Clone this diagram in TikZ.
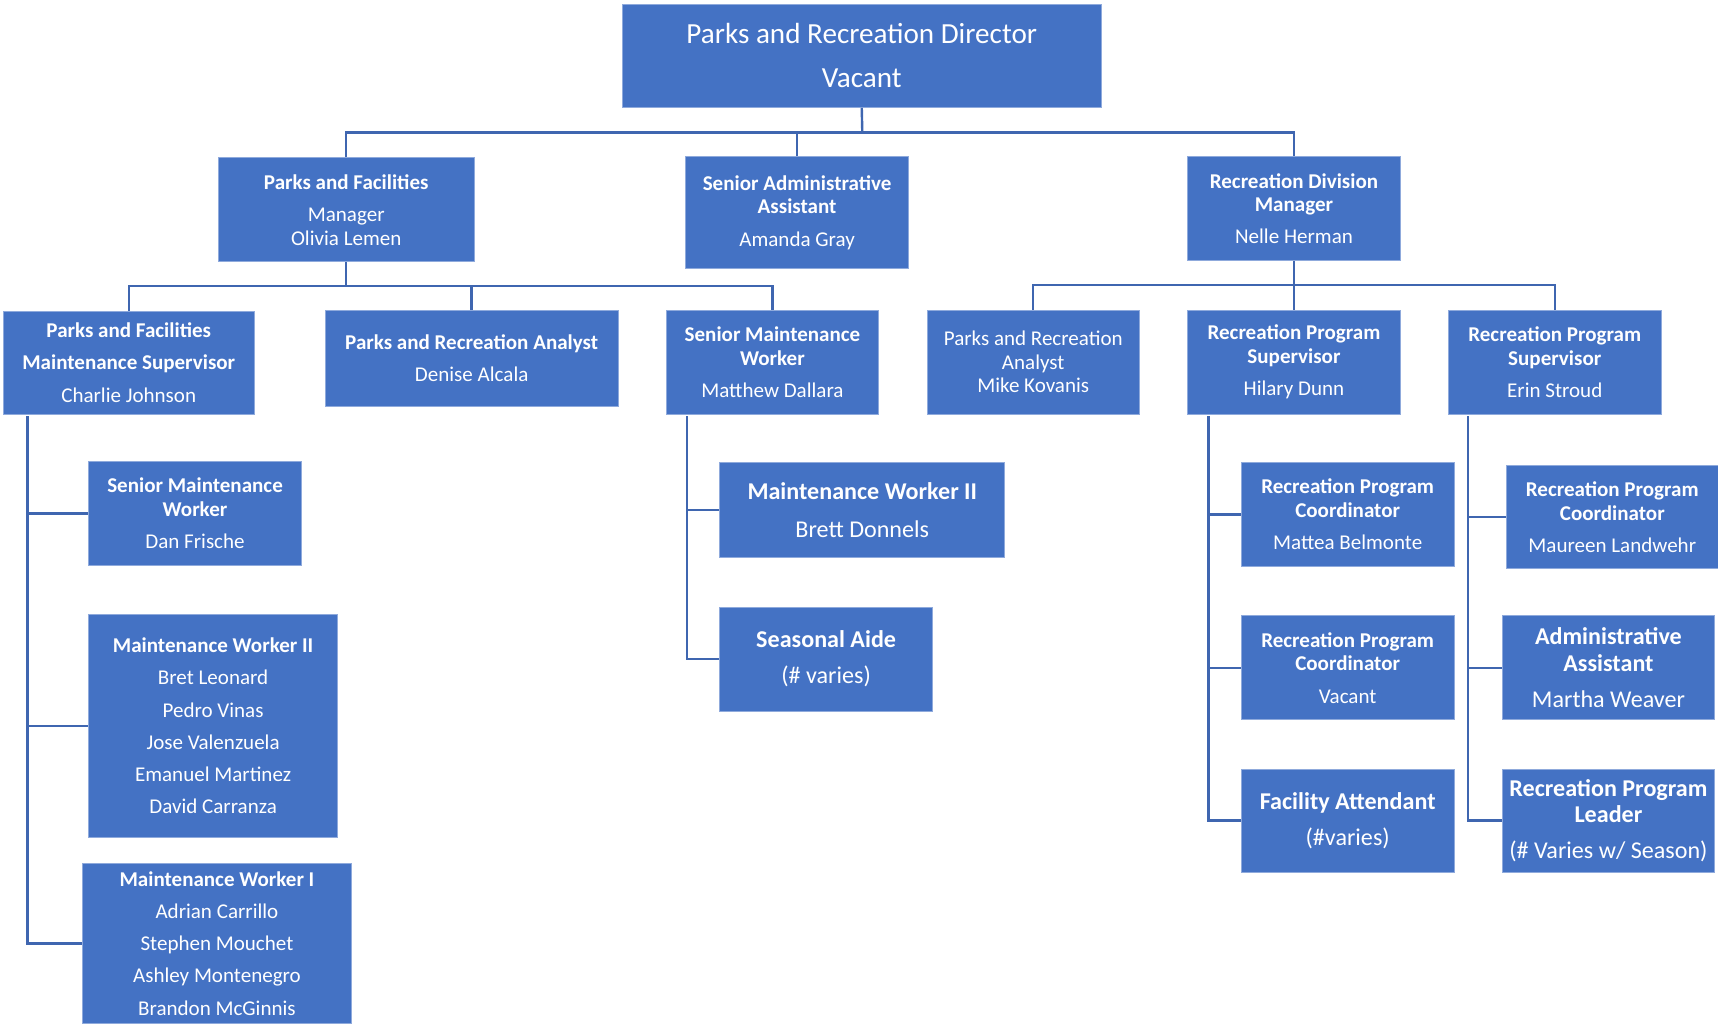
\documentclass[tikz,border=0pt]{standalone}
\usepackage{fontspec}
\setmainfont{Carlito}
\usepackage{tikz}
\definecolor{boxblue}{HTML}{4472C4}
\definecolor{boxedge}{HTML}{8FAADC}
\definecolor{linkblue}{HTML}{3F66B0}

\begin{document}
\begin{tikzpicture}[x=0.5pt,y=-0.5pt,
  box/.style={fill=boxblue,draw=boxedge,line width=0.4pt,text=white,align=center,inner sep=1pt,
    font=\fontsize{9.6}{10.75}\selectfont},
  bigbox/.style={box,font=\fontsize{11}{12}\selectfont},
  topbox/.style={box,font=\fontsize{13.3}{16}\selectfont},
  link/.style={draw=linkblue,line width=1.1pt}]
\useasboundingbox (0,0) rectangle (1568,934.6);
%%Top
\node[topbox,minimum width=218.5pt,minimum height=47pt] (dir) at (786.5,51)
  {Parks and Recreation Director\\[4pt] Vacant};
%%Level 1
\node[box,minimum width=117pt,minimum height=47.5pt] (pfm) at (316,191.5)
  {\textbf{Parks and Facilities}\\[4pt] Manager\\ Olivia Lemen};
\node[box,minimum width=101.5pt,minimum height=51pt] (saa) at (727.5,194)
  {\textbf{Senior Administrative}\\ \textbf{Assistant}\\[4pt] Amanda Gray};
\node[box,minimum width=97pt,minimum height=47.5pt] (rdm) at (1181,190.5)
  {\textbf{Recreation Division}\\ \textbf{Manager}\\[4pt] Nelle Herman};
%%Level 2
\node[box,minimum width=114.5pt,minimum height=47pt] (pfms) at (117.5,331)
  {\textbf{Parks and Facilities}\\[4pt] \textbf{Maintenance Supervisor}\\[4pt] Charlie Johnson};
\node[box,minimum width=133.5pt,minimum height=44pt] (pra) at (430.5,327)
  {\textbf{Parks and Recreation Analyst}\\[4pt] Denise Alcala};
\node[box,minimum width=97pt,minimum height=47.5pt] (smw) at (705,330.5)
  {\textbf{Senior Maintenance}\\ \textbf{Worker}\\[4pt] Matthew Dallara};
\node[box,minimum width=97pt,minimum height=47.5pt] (prb) at (943,330.5)
  {Parks and Recreation\\ Analyst\\ Mike Kovanis};
\node[box,minimum width=97pt,minimum height=47.5pt] (rpsa) at (1181,330.5)
  {\textbf{Recreation Program}\\ \textbf{Supervisor}\\[4pt] Hilary Dunn};
\node[box,minimum width=97pt,minimum height=47.5pt] (rpsb) at (1419,330.5)
  {\textbf{Recreation Program}\\ \textbf{Supervisor}\\[4pt] Erin Stroud};
%%Level 3, parks side
\node[box,minimum width=97pt,minimum height=47.5pt] (smwb) at (178,468.5)
  {\textbf{Senior Maintenance}\\ \textbf{Worker}\\[4pt] Dan Frische};
\node[box,minimum width=113.5pt,minimum height=101.5pt] (mwa) at (194.5,662.5)
  {\textbf{Maintenance Worker II}\\[4pt] Bret Leonard\\[4pt] Pedro Vinas\\[4pt] Jose Valenzuela\\[4pt]
   Emanuel Martinez\\[4pt] David Carranza};
\node[box,minimum width=123pt,minimum height=73pt] (mwb) at (198,861)
  {\textbf{Maintenance Worker I}\\[4pt] Adrian Carrillo\\[4pt] Stephen Mouchet\\[4pt] Ashley Montenegro\\[4pt]
   Brandon McGinnis};
\node[bigbox,minimum width=130pt,minimum height=43.5pt] (mwc) at (787,465.5)
  {\textbf{Maintenance Worker II}\\[5pt] Brett Donnels};
\node[bigbox,minimum width=97pt,minimum height=47.5pt] (sea) at (754,601.5)
  {\textbf{Seasonal Aide}\\[4.5pt] (\# varies)};
%%Level 3, recreation side
\node[box,minimum width=97pt,minimum height=47.5pt] (rpca) at (1230,469.5)
  {\textbf{Recreation Program}\\ \textbf{Coordinator}\\[4pt] Mattea Belmonte};
\node[box,minimum width=97pt,minimum height=47.5pt] (rpcb) at (1230,609.5)
  {\textbf{Recreation Program}\\ \textbf{Coordinator}\\[4pt] Vacant};
\node[bigbox,minimum width=97pt,minimum height=47pt] (fat) at (1230,749)
  {\textbf{Facility Attendant}\\[4.5pt] (\#varies)};
\node[box,minimum width=96.5pt,minimum height=47pt] (rpcc) at (1471.5,472)
  {\textbf{Recreation Program}\\ \textbf{Coordinator}\\[4pt] Maureen Landwehr};
\node[bigbox,minimum width=97pt,minimum height=47.5pt] (ada) at (1468,609.5)
  {\textbf{Administrative}\\ \textbf{Assistant}\\[4.5pt] Martha Weaver};
\node[bigbox,minimum width=97pt,minimum height=47pt] (rpl) at (1468,749)
  {\textbf{Recreation Program}\\ \textbf{Leader}\\[4.5pt] (\# Varies w/ Season)};

%%Connectors
\coordinate (bus1) at (787,121);
\coordinate (bus2) at (316,261);
\coordinate (bus3) at (1181,260);
\draw[link] (dir.south) -- (bus1);
\draw[link] (pfm.north) |- (bus1) -| (rdm.north);
\draw[link] (saa.north) -- (saa.north |- bus1);
\draw[link] (pfm.south) -- (bus2);
\draw[link] (pfms.north) |- (bus2) -| (smw.north);
\draw[link] (pra.north) -- (pra.north |- bus2);
\draw[link] (rdm.south) -- (rpsa.north);
\draw[link] (prb.north) |- (bus3) -| (rpsb.north);
%%Side lines
\coordinate (pv) at (25,380);
\coordinate (sv) at (627,380);
\coordinate (hv) at (1103,380);
\coordinate (ev) at (1340,380);
\draw[link] (pv) |- (mwb.west);
\draw[link] (pv |- smwb.west) -- (smwb.west);
\draw[link] (pv |- mwa.west) -- (mwa.west);
\draw[link] (sv) |- (sea.west);
\draw[link] (sv |- mwc.west) -- (mwc.west);
\draw[link] (hv) |- (fat.west);
\draw[link] (hv |- rpca.west) -- (rpca.west);
\draw[link] (hv |- rpcb.west) -- (rpcb.west);
\draw[link] (ev) |- (rpl.west);
\draw[link] (ev |- rpcc.west) -- (rpcc.west);
\draw[link] (ev |- ada.west) -- (ada.west);
\end{tikzpicture}
\end{document}
